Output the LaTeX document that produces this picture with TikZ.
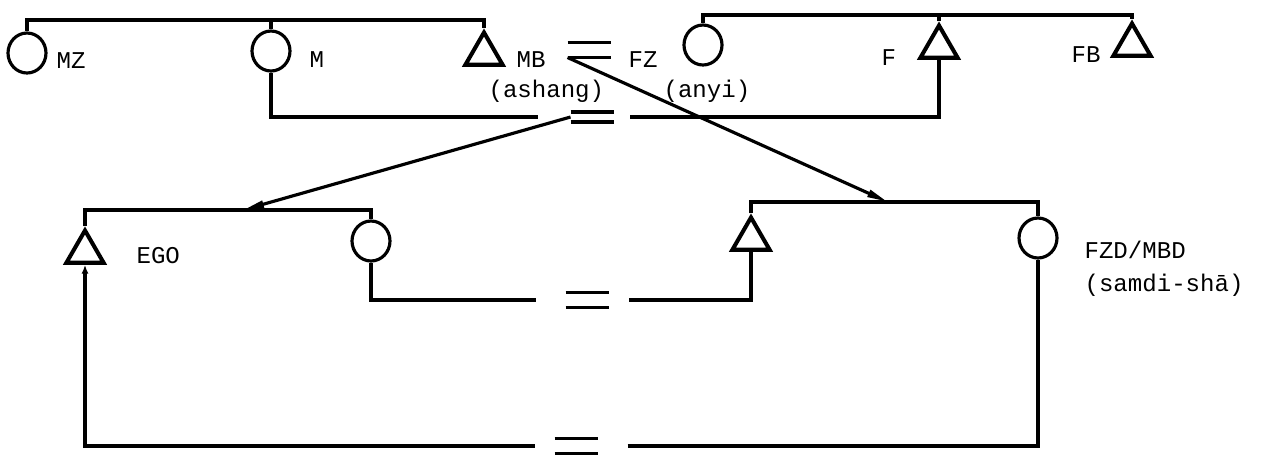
\documentclass[tikz,border=0pt]{standalone}
\usepackage{fontspec}
\setmonofont{Liberation Mono}
\usetikzlibrary{arrows.meta,shapes.geometric}

\begin{document}
\begin{tikzpicture}[x=0.02cm,y=-0.02cm,line width=1.8pt,
    font=\ttfamily\fontsize{13.7}{16}\selectfont,
    fem/.style={draw,ellipse,minimum width=0.76cm,minimum height=0.8cm,inner sep=0pt},
    mal/.style={draw,regular polygon,regular polygon sides=3,minimum size=0.86cm,inner sep=0pt,line width=2.3pt},
    lab/.style={anchor=base west,inner sep=0pt},
    eqsign/.style={minimum width=0.86cm,minimum height=0.3cm,inner sep=0pt,outer sep=0pt}]
  \useasboundingbox (0,0) rectangle (1270,458);
  % mother's siblings
  \node[fem] (mz) at (27,53) {};
  \node[fem] (m) at (271,51) {};
  \node[mal] (mb) at (484,54) {};
  \node[lab] (mzl) at (55,68) {MZ};
  \node[lab] (ml) at (308,67) {M};
  \node[lab] (mbl) at (515,67) {MB};
  \node[lab] (ashang) at (487,97) {(ashang)};
  % father's siblings
  \node[fem] (fz) at (703,45) {};
  \node[mal] (f) at (939,47) {};
  \node[mal] (fb) at (1132,45) {};
  \node[lab] (fzl) at (627,67) {FZ};
  \node[lab] (anyi) at (662,97) {(anyi)};
  \node[lab] (fl) at (880,65) {F};
  \node[lab] (fbl) at (1070,62) {FB};
  % ego's generation
  \node[mal] (ego) at (85,252) {};
  \node[fem] (sis) at (371,241) {};
  \node[mal] (bro) at (751,239) {};
  \node[fem] (sam) at (1038,238) {};
  \node[lab] (egol) at (135,263) {EGO};
  \node[lab] (saml) at (1083,258) {FZD/MBD};
  \node[lab] (samdi) at (1083,291) {(samdi-shā)};
  % marriage signs
  \node[eqsign] (eqa) at (589,50) {};
  \node[eqsign,minimum height=0.2cm] (eqb) at (592,117) {};
  \node[eqsign] (eqc) at (587,300) {};
  \node[eqsign] (eqd) at (576,446) {};
  \foreach \e in {eqa,eqb,eqc,eqd} {
    \draw (\e.north west) -- (\e.north east);
    \draw (\e.south west) -- (\e.south east);
  }
  % sibling lines
  \coordinate (sibm) at (0,20);
  \coordinate (sibf) at (0,15);
  \coordinate (sibe) at (0,210);
  \coordinate (sibs) at (0,202);
  \draw (mz.north) -- (mz.north |- sibm) -- (mb.north |- sibm) -- (mb.north);
  \draw (m.north) -- (m.north |- sibm);
  \draw (fz.north) -- (fz.north |- sibf) -- (fb.north |- sibf) -- (fb.north);
  \draw (f.north) -- (f.north |- sibf);
  \draw (ego.north) -- (ego.north |- sibe) -- (sis.north |- sibe) -- (sis.north);
  \draw (bro.north) -- (bro.north |- sibs) -- (sam.north |- sibs) -- (sam.north);
  % marriages
  \draw (m.south) |- ([xshift=-0.66cm]eqb.west);
  \draw (f.south) |- ([xshift=0.33cm]eqb.east);
  \draw (sis.south) |- ([xshift=-0.6cm]eqc.west);
  \draw (bro.south) |- ([xshift=0.4cm]eqc.east);
  \draw[-{Latex[length=5pt,width=4pt]}] ([xshift=-0.4cm]eqd.west) -| (ego.south);
  \draw ([xshift=0.6cm]eqd.east) -| (sam.south);
  % descent
  \coordinate (kide) at (243,210);
  \coordinate (kids) at (888,202);
  \draw[-{Triangle[length=12pt,width=4pt]}] (eqb.west) -- (kide);
  \draw[-{Triangle[length=12pt,width=4pt]}] (eqa.south west) -- (kids);
\end{tikzpicture}
\end{document}
